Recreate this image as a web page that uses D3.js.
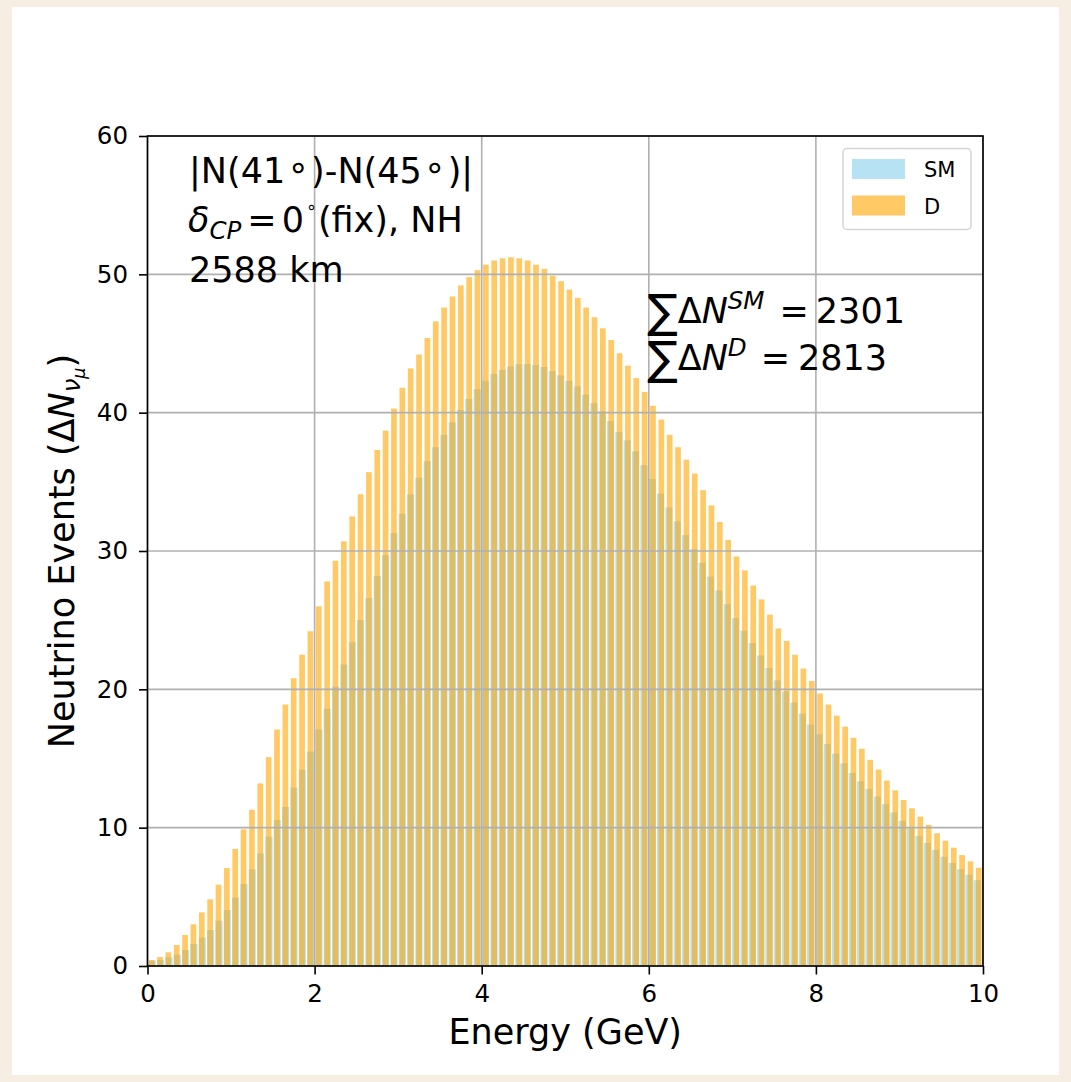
<!DOCTYPE html>
<html>
<head>
<meta charset="utf-8">
<script src="https://cdn.jsdelivr.net/npm/d3@7"></script>
<style>
  html, body { margin: 0; padding: 0; background: #f6eee2; }
  svg { display: block; font-family: "DejaVu Sans", sans-serif; }
</style>
</head>
<body>
<svg id="chart" width="1071" height="1082"></svg>
<script>
// Event-count differences per 0.1 GeV energy bin, 0-10 GeV
const smEvents = [
  0.39, 0.43, 0.63, 0.82, 1.16, 1.59, 2.05, 2.60, 3.28, 4.05,
  4.94, 5.93, 6.99, 8.14, 9.35, 10.55, 11.5, 12.9, 14.2, 15.5,
  17.1, 18.6, 20.2, 21.8, 23.4, 25.0, 26.6, 28.2, 29.7, 31.3,
  32.7, 34.1, 35.3, 36.5, 37.5, 38.4, 39.3, 40.2, 41.0, 41.7,
  42.3, 42.8, 43.1, 43.35, 43.5, 43.52, 43.45, 43.3, 43.0, 42.7,
  42.3, 41.9, 41.3, 40.7, 40.1, 39.4, 38.6, 38.0, 37.2, 36.2,
  35.2, 34.15, 33.15, 32.15, 31.15, 30.15, 29.15, 28.15, 27.15, 26.15,
  25.15, 24.25, 23.35, 22.45, 21.55, 20.65, 19.85, 19.05, 18.25, 17.45,
  16.75, 16.05, 15.35, 14.65, 13.95, 13.35, 12.8, 12.25, 11.7, 11.1,
  10.5, 9.95, 9.4, 8.9, 8.4, 7.9, 7.45, 7.0, 6.6, 6.2
];
const dEvents = [
  0.43, 0.65, 0.99, 1.52, 2.24, 3.01, 3.88, 4.82, 5.88, 7.08,
  8.46, 9.88, 11.3, 13.2, 15.1, 17.1, 18.9, 20.8, 22.5, 24.2,
  26.0, 27.8, 29.3, 30.7, 32.5, 34.1, 35.7, 37.3, 38.7, 40.3,
  41.8, 43.2, 44.2, 45.4, 46.6, 47.6, 48.4, 49.2, 49.8, 50.3,
  50.7, 51.0, 51.16, 51.23, 51.16, 51.0, 50.7, 50.4, 49.9, 49.5,
  48.9, 48.3, 47.6, 46.9, 46.1, 45.25, 44.3, 43.4, 42.5, 41.5,
  40.5, 39.5, 38.4, 37.5, 36.6, 35.6, 34.4, 33.3, 32.1, 30.8,
  29.6, 28.6, 27.5, 26.5, 25.4, 24.4, 23.5, 22.5, 21.5, 20.6,
  19.7, 18.9, 18.1, 17.3, 16.5, 15.7, 14.9, 14.2, 13.4, 12.7,
  12.0, 11.4, 10.8, 10.2, 9.6, 9.06, 8.55, 8.02, 7.57, 7.1
];
// Bin centres (GeV) for each series
const energyD = d3.range(dEvents.length).map(i => 0.05 + 0.1 * i);
const energySM = d3.range(smEvents.length).map(i => 0.057 + 0.09974 * i);

const seriesNames = ["SM", "D"];
const xTicks = [0, 2, 4, 6, 8, 10];
const yTicks = [0, 10, 20, 30, 40, 50, 60];
const totals = { SM: 2301, D: 2813 };

const svg = d3.select("#chart");
const plot = { left: 147.5, right: 983, top: 136, bottom: 966 };

const colSM = "#87CEEB", colD = "#FFA500", alpha = 0.6;
const widthSM = 0.086, widthD = 0.068;

// page card
svg.append("rect").attr("x", 12).attr("y", 7).attr("width", 1047).attr("height", 1068).attr("fill", "#ffffff");

const x = d3.scaleLinear().domain([0, 10]).range([plot.left, plot.right]);
const y = d3.scaleLinear().domain([0, 60]).range([plot.bottom, plot.top]);

svg.append("clipPath").attr("id", "plotclip")
  .append("rect").attr("x", plot.left).attr("y", plot.top)
  .attr("width", plot.right - plot.left).attr("height", plot.bottom - plot.top);

const bars = svg.append("g").attr("clip-path", "url(#plotclip)");

bars.append("g").selectAll("rect").data(smEvents).join("rect")
  .attr("x", (d, i) => x(energySM[i] - widthSM / 2))
  .attr("width", x(widthSM) - x(0))
  .attr("y", d => y(d))
  .attr("height", d => y(0) - y(d))
  .attr("fill", colSM).attr("fill-opacity", alpha);

bars.append("g").selectAll("rect").data(dEvents).join("rect")
  .attr("x", (d, i) => x(energyD[i] - widthD / 2))
  .attr("width", x(widthD) - x(0))
  .attr("y", d => y(d))
  .attr("height", d => y(0) - y(d))
  .attr("fill", colD).attr("fill-opacity", alpha);

// grid on top of the bars
const grid = svg.append("g").attr("stroke", "#b0b0b0").attr("stroke-width", 1.6);
grid.selectAll(".gx").data(xTicks).join("line")
  .attr("x1", d => x(d)).attr("x2", d => x(d))
  .attr("y1", plot.top).attr("y2", plot.bottom);
grid.selectAll(".gy").data(yTicks).join("line")
  .attr("x1", plot.left).attr("x2", plot.right)
  .attr("y1", d => y(d)).attr("y2", d => y(d));

// axes
const xAxis = d3.axisBottom(x).tickValues(xTicks).tickFormat(d3.format("d")).tickSizeOuter(0).tickSize(8.5).tickPadding(10);
const yAxis = d3.axisLeft(y).tickValues(yTicks).tickFormat(d3.format("d")).tickSizeOuter(0).tickSize(8.5).tickPadding(11);

const gx = svg.append("g").attr("transform", `translate(0,${plot.bottom})`).call(xAxis);
const gy = svg.append("g").attr("transform", `translate(${plot.left},0)`).call(yAxis);
[gx, gy].forEach(g => {
  g.select(".domain").remove();
  g.selectAll(".tick line").attr("stroke", "#000").attr("stroke-width", 1.6);
  g.selectAll(".tick text").attr("fill", "#000")
    .style("font-family", "DejaVu Sans").style("font-size", "24.5px");
});

// spines
svg.append("rect").attr("x", plot.left).attr("y", plot.top)
  .attr("width", plot.right - plot.left).attr("height", plot.bottom - plot.top)
  .attr("fill", "none").attr("stroke", "#000").attr("stroke-width", 1.6);

// rich text helper: parts with scale, rise (px), italic, dx
function rich(g, xPos, yPos, size, parts, attrs) {
  const t = g.append("text").attr("x", xPos).attr("y", yPos)
    .style("font-size", size + "px").attr("fill", "#000");
  if (attrs) Object.entries(attrs).forEach(([k, v]) => t.attr(k, v));
  let rise = 0;
  parts.forEach(p => {
    const r = p.rise || 0;
    const ts = t.append("tspan").text(p.t)
      .attr("dy", -(r - rise))
      .style("font-size", (size * (p.scale || 1)) + "px");
    if (p.dx) ts.attr("dx", p.dx);
    if (p.italic) ts.style("font-style", "oblique");
    rise = r;
  });
  return t;
}

const ann = svg.append("g");
rich(ann, 189, 183, 35, [
  { t: "|N(41" },
  { t: "∘", dx: 2, rise: 4 },
  { t: ")-N(45", dx: 2 },
  { t: "∘", dx: 2, rise: 4 },
  { t: ")|", dx: 2 }
]);
rich(ann, 188, 232, 35, [
  { t: "δ", italic: true },
  { t: "CP", italic: true, scale: 0.7, rise: -7 },
  { t: "=", dx: 6 },
  { t: "0", dx: 5 },
  { t: "∘", scale: 0.5, rise: 19, dx: 2 },
  { t: "(fix), NH", dx: 1 }
]);
rich(ann, 189, 282, 35, [{ t: "2588 km" }]);

rich(ann, 647, 323, 35, [
  { t: "∑", scale: 1.3, rise: -4 },
  { t: "Δ" },
  { t: "N", italic: true },
  { t: "SM", italic: true, scale: 0.7, rise: 14 },
  { t: "=", dx: 15 },
  { t: totals.SM, dx: 7 }
]);
rich(ann, 647, 370, 35, [
  { t: "∑", scale: 1.3, rise: -4 },
  { t: "Δ" },
  { t: "N", italic: true },
  { t: "D", italic: true, scale: 0.7, rise: 14 },
  { t: "=", dx: 14 },
  { t: totals.D, dx: 8 }
]);

// axis labels
svg.append("text").attr("x", (plot.left + plot.right) / 2).attr("y", 1044)
  .attr("text-anchor", "middle").style("font-size", "35px").text("Energy (GeV)");

const yl = svg.append("g").attr("transform", `translate(74,${(plot.top + plot.bottom) / 2}) rotate(-90)`);
rich(yl, 0, 0, 35, [
  { t: "Neutrino Events (Δ" },
  { t: "N", italic: true },
  { t: "ν", italic: true, scale: 0.7, rise: -6 },
  { t: "μ", italic: true, scale: 0.5, rise: -11 },
  { t: ")", rise: 0 }
], { "text-anchor": "middle" });

// legend
const lg = svg.append("g");
lg.append("rect").attr("x", 843).attr("y", 148.5).attr("width", 128).attr("height", 81)
  .attr("rx", 4).attr("fill", "#fff").attr("fill-opacity", 0.8)
  .attr("stroke", "#d5d5d5").attr("stroke-width", 1.5);
const legendColors = [colSM, colD];
seriesNames.forEach((name, i) => {
  lg.append("rect").attr("x", 852).attr("y", 159 + i * 36.5).attr("width", 53).attr("height", 20)
    .attr("fill", legendColors[i]).attr("fill-opacity", alpha);
  lg.append("text").attr("x", 924).attr("y", 177 + i * 36.5)
    .style("font-size", "21px").text(name);
});
</script>
</body>
</html>
